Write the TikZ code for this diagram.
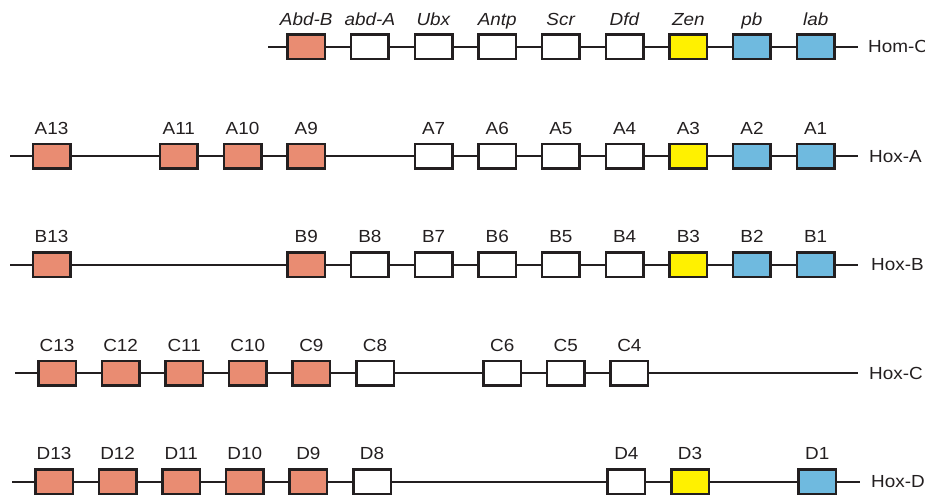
\documentclass[tikz,border=0pt]{standalone}
\usepackage{fontspec}
\setmainfont{Liberation Sans}[FakeStretch=1.08]
\definecolor{posterior}{HTML}{E98C72}
\definecolor{anterior}{HTML}{6FBADF}
\definecolor{groupthree}{HTML}{FFF100}
\definecolor{ink}{HTML}{231F20}
\tikzset{
  gene/.style={draw=ink, line width=2.5pt, minimum width=37.5pt, minimum height=24.5pt, inner sep=0pt},
  post/.style={gene, fill=posterior},
  cent/.style={gene, fill=white},
  three/.style={gene, fill=groupthree},
  ant/.style={gene, fill=anterior},
  dna/.style={draw=ink, line width=2pt},
  gname/.style={anchor=base, inner sep=0pt, text=ink, font=\fontsize{17.5}{20}\selectfont},
  cname/.style={anchor=base west, inner sep=0pt, text=ink, font=\fontsize{17.5}{20}\selectfont}
}
\begin{document}
\begin{tikzpicture}[x=1pt,y=-1pt]
\useasboundingbox (0,0) rectangle (925,499);

% ---- Drosophila Hom-C ----
\foreach \c/\t/\s in {4/Abd-B/post,5/abd-A/cent,6/Ubx/cent,7/Antp/cent,8/Scr/cent,
                      9/Dfd/cent,10/Zen/three,11/pb/ant,12/lab/ant}{
  \node[\s] (h\c) at (51.5+63.68*\c,46.5) {};
  \node[gname] (ht\c) at (51.5+63.68*\c,25) {\textit{\t}};
}
\coordinate (hs) at (268,46.5);
\coordinate (he) at (858,46.5);
\draw[dna] (hs) -- (h4) -- (h5) -- (h6) -- (h7) -- (h8) -- (h9) -- (h10) -- (h11) -- (h12) -- (he);
\node[cname] (hl) at (868,52.5) {Hom-C};

% ---- Hox-A ----
\foreach \c/\t/\s in {0/A13/post,2/A11/post,3/A10/post,4/A9/post,6/A7/cent,7/A6/cent,
                      8/A5/cent,9/A4/cent,10/A3/three,11/A2/ant,12/A1/ant}{
  \node[\s] (a\c) at (51.5+63.68*\c,156) {};
  \node[gname] (at\c) at (51.5+63.68*\c,134) {\t};
}
\coordinate (as) at (10,156);
\coordinate (ae) at (858,156);
\draw[dna] (as) -- (a0) -- (a2) -- (a3) -- (a4) -- (a6) -- (a7) -- (a8) -- (a9) -- (a10) -- (a11) -- (a12) -- (ae);
\node[cname] (al) at (869,162) {Hox-A};

% ---- Hox-B ----
\foreach \c/\t/\s in {0/B13/post,4/B9/post,5/B8/cent,6/B7/cent,7/B6/cent,8/B5/cent,
                      9/B4/cent,10/B3/three,11/B2/ant,12/B1/ant}{
  \node[\s] (b\c) at (51.5+63.68*\c,264.5) {};
  \node[gname] (bt\c) at (51.5+63.68*\c,242.5) {\t};
}
\coordinate (bs) at (10,264.5);
\coordinate (be) at (858,264.5);
\draw[dna] (bs) -- (b0) -- (b4) -- (b5) -- (b6) -- (b7) -- (b8) -- (b9) -- (b10) -- (b11) -- (b12) -- (be);
\node[cname] (bl) at (871,270.5) {Hox-B};

% ---- Hox-C ----
\foreach \c/\t/\s in {0/C13/post,1/C12/post,2/C11/post,3/C10/post,4/C9/post,5/C8/cent,
                      7/C6/cent,8/C5/cent,9/C4/cent}{
  \node[\s] (c\c) at (57+63.6*\c,373) {};
  \node[gname] (ct\c) at (57+63.6*\c,351) {\t};
}
\coordinate (cs) at (15,373);
\coordinate (ce) at (858,373);
\draw[dna] (cs) -- (c0) -- (c1) -- (c2) -- (c3) -- (c4) -- (c5) -- (c7) -- (c8) -- (c9) -- (ce);
\node[cname] (cl) at (869,379) {Hox-C};

% ---- Hox-D ----
\foreach \c/\t/\s in {0/D13/post,1/D12/post,2/D11/post,3/D10/post,4/D9/post,5/D8/cent,
                      9/D4/cent,10/D3/three,12/D1/ant}{
  \node[\s] (d\c) at (54+63.6*\c,481.5) {};
  \node[gname] (dt\c) at (54+63.6*\c,459.5) {\t};
}
\coordinate (ds) at (12,481.5);
\coordinate (de) at (860,481.5);
\draw[dna] (ds) -- (d0) -- (d1) -- (d2) -- (d3) -- (d4) -- (d5) -- (d9) -- (d10) -- (d12) -- (de);
\node[cname] (dl) at (871,487.5) {Hox-D};
\end{tikzpicture}
\end{document}
